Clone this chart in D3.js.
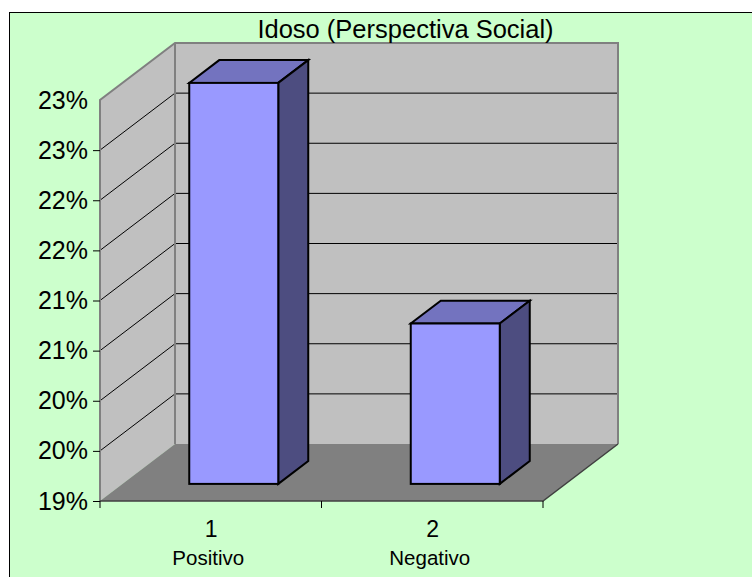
<!DOCTYPE html>
<html>
<head>
<meta charset="utf-8">
<script src="https://cdn.jsdelivr.net/npm/d3@7/dist/d3.min.js"></script>
<style>
html,body{margin:0;padding:0;background:#fff;overflow:hidden}
text{font-family:"Liberation Sans",Arial,sans-serif;fill:#000}
</style>
</head>
<body>
<script>
const chartTitle = "Idoso (Perspectiva Social)";
const categories = ["1", "2"];
const categoryNames = ["Positivo", "Negativo"];
const values = [23.0, 20.6];
const tickValues = [19, 19.5, 20, 20.5, 21, 21.5, 22, 22.5, 23];
const tickLabels = ["19%", "20%", "20%", "21%", "21%", "22%", "22%", "23%", "23%"];

const W = 752, H = 577;
const plot = {left: 100, right: 543, top: 100, bottom: 501, dx: 75, dy: -57};
const barWidthPx = 89, barFrontDepth = 0.3, barBackDepth = 0.7;

const svg = d3.select("body").append("svg").attr("width", W).attr("height", H).style("display", "block");

const y = d3.scaleLinear().domain([19, 23]).range([plot.bottom, plot.top]);
const x = d3.scaleBand().domain(categories).range([plot.left, plot.right]);
const px = (xv, d) => xv + plot.dx * d;
const py = (yv, d) => yv + plot.dy * d;
const poly = pts => pts.map(p => p.join(",")).join(" ");

// chart area
svg.append("rect").attr("x", 9.5).attr("y", 12.5).attr("width", W + 10).attr("height", H + 10)
  .attr("fill", "#CCFFCC").attr("stroke", "#000").attr("stroke-width", 1);

const yTop = y(23), yBot = y(19);
// walls
svg.append("polygon").attr("points", poly([
  [px(plot.left,0), yTop],[px(plot.left,1), py(yTop,1)],[px(plot.left,1), py(yBot,1)],[px(plot.left,0), yBot]
])).attr("fill", "#C0C0C0");
svg.append("rect").attr("x", px(plot.left,1)).attr("y", py(yTop,1))
  .attr("width", plot.right - plot.left).attr("height", yBot - yTop).attr("fill", "#C0C0C0");
// floor
svg.append("polygon").attr("points", poly([
  [plot.left, yBot],[plot.right, yBot],[px(plot.right,1), py(yBot,1)],[px(plot.left,1), py(yBot,1)]
])).attr("fill", "#808080");

// gridlines
const inner = tickValues.filter(v => v > 19 && v < 23);
svg.append("g").selectAll("polyline").data(inner).join("polyline")
  .attr("points", v => poly([
    [plot.left, y(v)],[px(plot.left,1), py(y(v),1)],[px(plot.right,1), py(y(v),1)]
  ]))
  .attr("fill", "none").attr("stroke", "#000").attr("stroke-width", 1);

// wall borders
svg.append("polyline").attr("points", poly([
  [plot.left, yBot],[plot.left, yTop],[px(plot.left,1), py(yTop,1)],[px(plot.right,1), py(yTop,1)],[px(plot.right,1), py(yBot,1)]
])).attr("fill", "none").attr("stroke", "#808080").attr("stroke-width", 2);
svg.append("line").attr("x1", px(plot.left,1)).attr("x2", px(plot.left,1))
  .attr("y1", py(yTop,1)).attr("y2", py(yBot,1)).attr("stroke", "#808080").attr("stroke-width", 2);
svg.append("polyline").attr("points", poly([
  [plot.left, yBot],[plot.right, yBot],[px(plot.right,1), py(yBot,1)]
])).attr("fill", "none").attr("stroke", "#404040").attr("stroke-width", 1.5);

// y axis
const yAxis = d3.axisLeft(y).tickValues(tickValues).tickSize(7).tickPadding(5)
  .tickFormat((d, i) => tickLabels[i]);
const yG = svg.append("g").attr("transform", `translate(${plot.left},0)`).call(yAxis);
yG.select(".domain").remove();
yG.selectAll("line").attr("stroke", "#000").attr("opacity", d => d === 23 ? 0 : 1);
yG.selectAll("text").attr("font-size", 25).attr("font-family", '"Liberation Sans",Arial,sans-serif');

// x axis
const xBoundaries = [plot.left, (plot.left + plot.right) / 2, plot.right];
svg.append("g").selectAll("line").data(xBoundaries).join("line")
  .attr("x1", d => d).attr("x2", d => d).attr("y1", yBot).attr("y2", yBot + 7)
  .attr("stroke", "#000");
svg.append("g").selectAll("text").data(categories).join("text")
  .attr("x", d => x(d) + x.bandwidth() / 2 + 0.5).attr("y", 537)
  .attr("text-anchor", "middle").attr("font-size", 23).text(d => d);
svg.append("g").selectAll("text").data(categoryNames).join("text")
  .attr("x", (d, i) => x(categories[i]) + x.bandwidth() / 2 - 2.5).attr("y", 565)
  .attr("text-anchor", "middle").attr("font-size", 20.5).text(d => d);

// bars
const bars = svg.append("g").selectAll("g").data(categories).join("g")
  .attr("stroke", "#000").attr("stroke-width", 2).attr("stroke-linejoin", "miter");
bars.each(function(c, i) {
  const g = d3.select(this);
  const cx = x(c) + x.bandwidth() / 2 + 0.5;
  const l = px(cx - barWidthPx / 2, barFrontDepth), r = l + barWidthPx;
  const top = py(y(values[i]), barFrontDepth), bot = py(yBot, barFrontDepth);
  const depth = barBackDepth - barFrontDepth;
  const bdx = plot.dx * depth, bdy = plot.dy * depth;
  g.append("polygon").attr("fill", "#7373BF").attr("points", poly([
    [l, top],[r, top],[r + bdx, top + bdy],[l + bdx, top + bdy]
  ]));
  g.append("polygon").attr("fill", "#4D4D80").attr("points", poly([
    [r, top],[r + bdx, top + bdy],[r + bdx, bot + bdy],[r, bot]
  ]));
  g.append("rect").attr("fill", "#9999FF").attr("x", l).attr("y", top)
    .attr("width", barWidthPx).attr("height", bot - top);
});

// title
svg.append("text").attr("x", 405.5).attr("y", 38).attr("text-anchor", "middle")
  .attr("font-size", 25.5).text(chartTitle);
</script>
</body>
</html>
